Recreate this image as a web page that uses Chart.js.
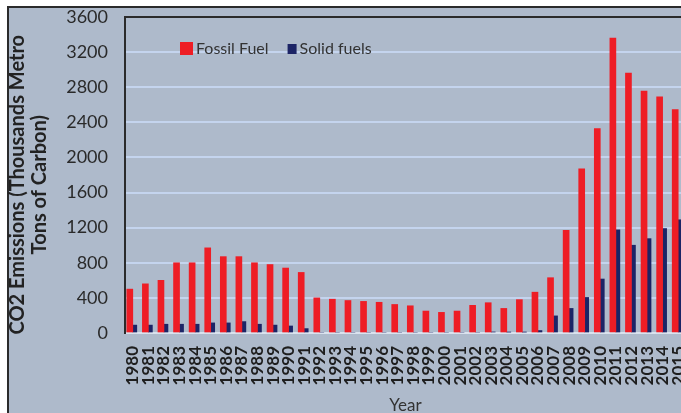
<!DOCTYPE html>
<html lang="en">
<head>
    <meta charset="UTF-8">
    <title>CO2 Emissions</title>
    <style>
        body {
            margin: 0;
            padding: 0;
            background: #ffffff;
            overflow: hidden;
            width: 681px;
            height: 413px;
        }

        /* grey-blue panel with the dark top and left edges */
        .frame {
            position: absolute;
            left: 7px;
            top: 6px;
            width: 700px;
            height: 420px;
            background: #aebacb;
            border-top: 2px solid #2b2b2b;
            border-left: 2px solid #2b2b2b;
        }

        #chart {
            position: absolute;
            left: 0;
            top: 0;
        }
    </style>
</head>
<body>
    <div class="frame"></div>
    <canvas id="chart" width="690" height="413"></canvas>

    <script src="https://cdn.jsdelivr.net/npm/chart.js"></script>
    <script>
        const years = ['1980', '1981', '1982', '1983', '1984', '1985', '1986', '1987', '1988', '1989',
                       '1990', '1991', '1992', '1993', '1994', '1995', '1996', '1997', '1998', '1999',
                       '2000', '2001', '2002', '2003', '2004', '2005', '2006', '2007', '2008', '2009',
                       '2010', '2011', '2012', '2013', '2014', '2015'];

        const fossilFuel = [500, 560, 600, 800, 800, 970, 870, 870, 800, 780,
                            740, 690, 400, 385, 370, 360, 350, 325, 310, 250,
                            235, 250, 315, 345, 280, 380, 465, 630, 1170, 1870,
                            2330, 3360, 2960, 2755, 2690, 2545];

        const solidFuels = [90, 90, 100, 100, 100, 115, 115, 130, 100, 90,
                            80, 50, 0, 0, 0, 0, 0, 0, 0, 0,
                            0, 0, 0, 12, 10, 10, 28, 195, 280, 405,
                            615, 1175, 1000, 1075, 1190, 1290];

        const yTicks = [0, 400, 800, 1200, 1600, 2000, 2400, 2800, 3200, 3600];

        const seriesNames = ['Fossil Fuel', 'Solid fuels'];

        // legend sits inside the plot in the original, with two different marker sizes
        const insideLegend = {
            id: 'insideLegend',
            afterDatasetsDraw(chart) {
                const c = chart.ctx;
                const marks = [{ w: 13, h: 13 }, { w: 9, h: 10 }];
                const y = 48.5;
                let x = 180;
                c.save();
                c.font = '16px Lato';
                c.textBaseline = 'middle';
                chart.data.datasets.forEach((ds, i) => {
                    const m = marks[i];
                    c.fillStyle = ds.backgroundColor;
                    c.fillRect(x, Math.round(y - m.h / 2), m.w, m.h);
                    x += m.w + 3;
                    c.fillStyle = '#333333';
                    c.fillText(ds.label, x, y);
                    x += c.measureText(ds.label).width + 19;
                });
                c.restore();
            }
        };

        const ctx = document.getElementById('chart').getContext('2d');
        new Chart(ctx, {
            type: 'bar',
            data: {
                labels: years,
                datasets: [{
                    label: seriesNames[0],
                    data: fossilFuel,
                    backgroundColor: '#ee1d25',
                    barThickness: 6
                }, {
                    label: seriesNames[1],
                    data: solidFuels,
                    backgroundColor: '#1c2466',
                    barThickness: 4
                }]
            },
            options: {
                responsive: false,
                animation: false,
                layout: {
                    padding: { top: 17, right: 4, bottom: 0, left: 0 }
                },
                plugins: {
                    tooltip: { enabled: false },
                    legend: { display: false }
                },
                scales: {
                    x: {
                        grid: { display: false, drawTicks: false },
                        border: { color: '#d9e2ee', width: 2 },
                        ticks: {
                            autoSkip: false,
                            maxRotation: 90,
                            minRotation: 90,
                            padding: 13,
                            color: '#1e1e1e',
                            font: { family: 'Lato', size: 17, weight: 'bold' }
                        },
                        title: {
                            display: true,
                            text: 'Year',
                            color: '#333333',
                            font: { family: 'Lato', size: 17 },
                            padding: { top: 0, bottom: -3 }
                        },
                        afterFit(scale) {
                            scale.height = 80;
                            // the last year runs off the right edge in the original
                            scale.paddingLeft = 0;
                            scale.paddingRight = 0;
                        }
                    },
                    y: {
                        min: 0,
                        max: 3600,
                        afterBuildTicks(scale) {
                            scale.ticks = yTicks.map(v => ({ value: v }));
                        },
                        grid: {
                            drawTicks: false,
                            lineWidth: 2,
                            color: c => (c.tick && c.tick.value === 3600) ? '#2b2b2b' : '#c4d4ee'
                        },
                        border: { color: '#2b2b2b', width: 2 },
                        ticks: {
                            padding: 17,
                            color: '#2a2a2a',
                            font: { family: 'Lato', size: 18 },
                            callback: v => String(v)
                        },
                        title: {
                            display: true,
                            // trailing spaces nudge the centred title a little lower, as in the original
                            text: ['CO2 Emissions (Thousands Metro    ', 'Tons of Carbon)    '],
                            color: '#222222',
                            font: { family: 'Lato', size: 20, weight: 'bold', lineHeight: 1.1 },
                            padding: { top: 7, bottom: 0 }
                        },
                        afterFit(scale) {
                            scale.width = 125;
                            scale.paddingTop = 0;
                            scale.paddingBottom = 0;
                        }
                    }
                }
            },
            plugins: [insideLegend]
        });
    </script>
</body>
</html>
